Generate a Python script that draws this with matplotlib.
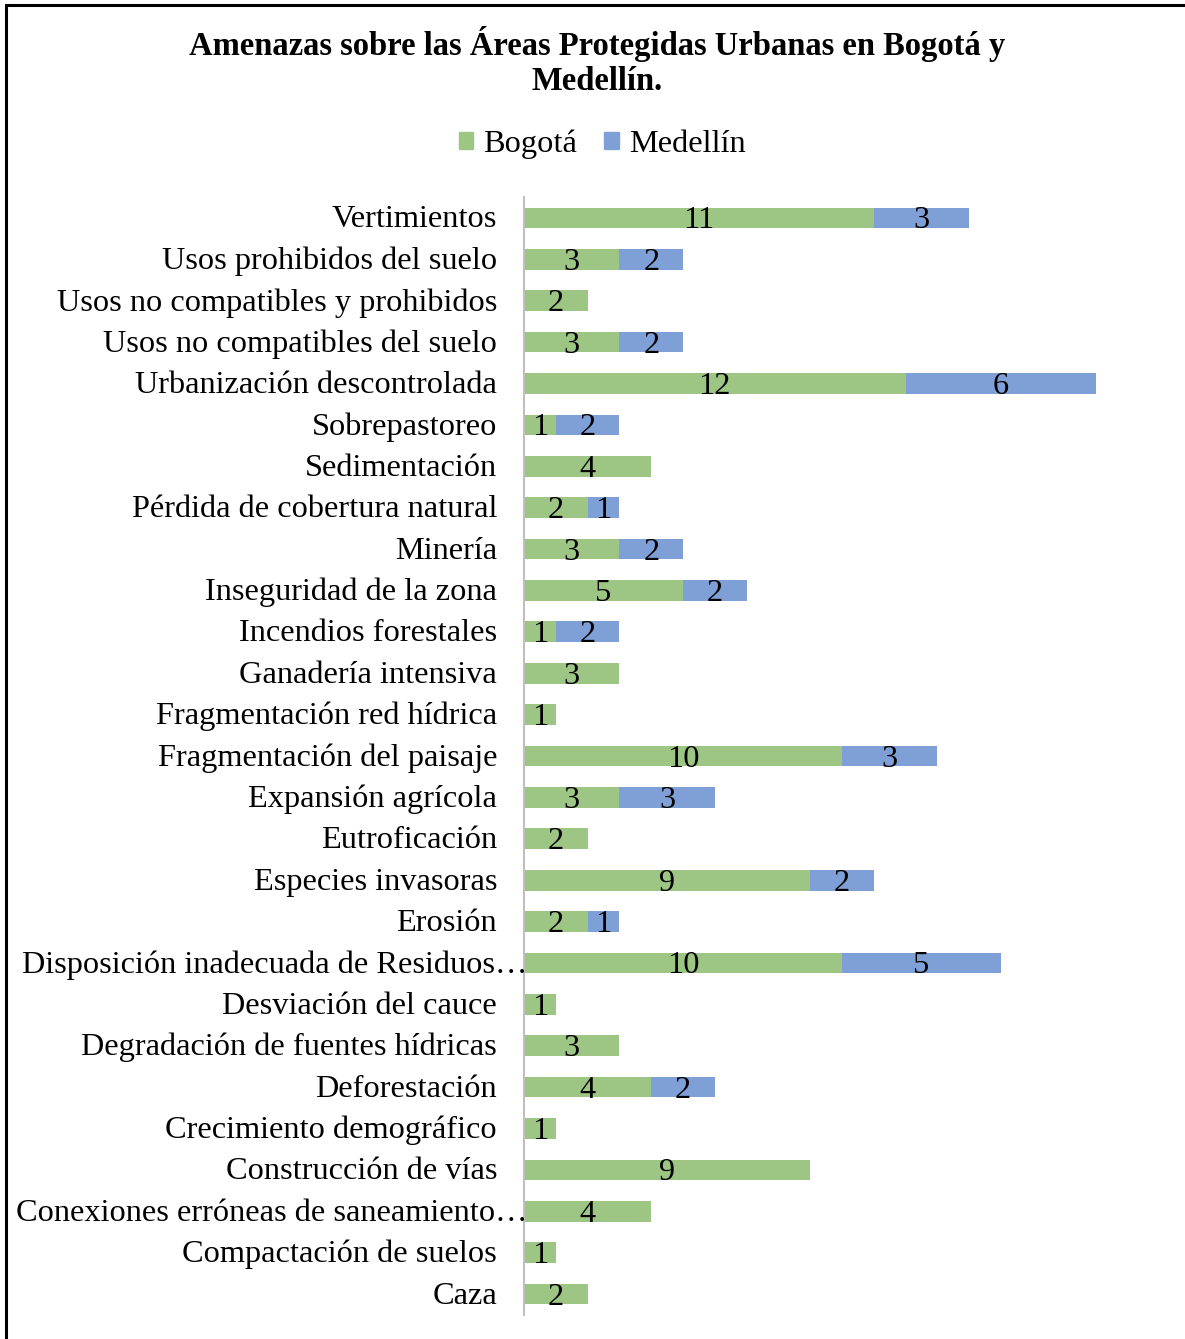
import matplotlib
matplotlib.use("Agg")
import matplotlib.pyplot as plt
import matplotlib.transforms as mtransforms
from matplotlib.patches import Rectangle, Patch
import numpy as np

categories = [
    "Vertimientos", "Usos prohibidos del suelo", "Usos no compatibles y prohibidos",
    "Usos no compatibles del suelo", "Urbanización descontrolada", "Sobrepastoreo",
    "Sedimentación", "Pérdida de cobertura natural", "Minería", "Inseguridad de la zona",
    "Incendios forestales", "Ganadería intensiva", "Fragmentación red hídrica",
    "Fragmentación del paisaje", "Expansión agrícola", "Eutroficación",
    "Especies invasoras", "Erosión", "Disposición inadecuada de Residuos…",
    "Desviación del cauce", "Degradación de fuentes hídricas", "Deforestación",
    "Crecimiento demográfico", "Construcción de vías",
    "Conexiones erróneas de saneamiento…", "Compactación de suelos", "Caza",
]
bogota = [11, 3, 2, 3, 12, 1, 4, 2, 3, 5, 1, 3, 1, 10, 3, 2, 9, 2, 10, 1, 3, 4, 1, 9, 4, 1, 2]
medellin = [3, 2, 0, 2, 6, 2, 0, 1, 2, 2, 2, 0, 0, 3, 3, 0, 2, 1, 5, 0, 0, 2, 0, 0, 0, 0, 0]

title_lines = ["Amenazas sobre las Áreas Protegidas Urbanas en Bogotá y", "Medellín."]
series_names = ["Bogotá", "Medellín"]
colors = ["#9DC583", "#7F9FD7"]

plt.rcParams['font.family'] = ['Liberation Serif', 'DejaVu Serif']

W, H = 1185, 1339
fig = plt.figure(figsize=(W / 100, H / 100), dpi=100)

# border
fig.patches.append(Rectangle((5.5 / W, -0.1), 2.0, 1.1 - 4.5 / H, transform=fig.transFigure,
                             fill=False, edgecolor="black", linewidth=2.2, zorder=10))

ax = fig.add_axes([524 / W, 1 - 1314.7 / H, (1160 - 524) / W, (1314.7 - 197.3) / H])
y = np.arange(len(categories))
b1 = ax.barh(y, bogota, height=0.5, color=colors[0], label=series_names[0])
b2 = ax.barh(y, medellin, left=bogota, height=0.5, color=colors[1], label=series_names[1])

fs = 23.3
px = 0.72  # points per pixel at dpi 100

for bars, vals in ((b1, bogota), (b2, medellin)):
    for rect, v in zip(bars, vals):
        if v:
            cx = rect.get_x() + rect.get_width() / 2
            cy = rect.get_y() + rect.get_height() / 2
            t = mtransforms.offset_copy(ax.transData, fig=fig, x=0, y=-3 * px, units="points")
            ax.text(cx, cy, str(v), transform=t, ha="center", va="center", fontsize=fs)

ax.set_xlim(0, 20)
ax.set_ylim(len(categories) - 0.5, -0.5)
ax.set_xticks([])
ax.set_yticks([])
for s in ["top", "right", "bottom"]:
    ax.spines[s].set_visible(False)
ax.spines["left"].set_color("#BFBFBF")
ax.spines["left"].set_linewidth(1.5)

trans = mtransforms.blended_transform_factory(ax.transAxes, ax.transData)
for i, c in enumerate(categories):
    off = 3 if c.endswith("…") else -27
    t = mtransforms.offset_copy(trans, fig=fig, x=off * px, y=-2 * px, units="points")
    ax.text(0, i, c, transform=t, ha="right", va="center", fontsize=fs)

fig.text(597 / W, 1 - 44 / H, title_lines[0], ha="center", va="center",
         fontsize=23.5, fontweight="bold")
fig.text(597 / W, 1 - 81 / H, title_lines[1], ha="center", va="center",
         fontsize=23.5, fontweight="bold")

handles = [Patch(color=colors[0]), Patch(color=colors[1])]
fig.legend(handles, series_names, loc="center", bbox_to_anchor=(602 / W, 1 - 144 / H),
           ncol=2, frameon=False, fontsize=fs, handlelength=0.45, handleheight=0.45,
           handletextpad=0.3, columnspacing=0.85)

fig.savefig("out.png", dpi=100, facecolor="white")
